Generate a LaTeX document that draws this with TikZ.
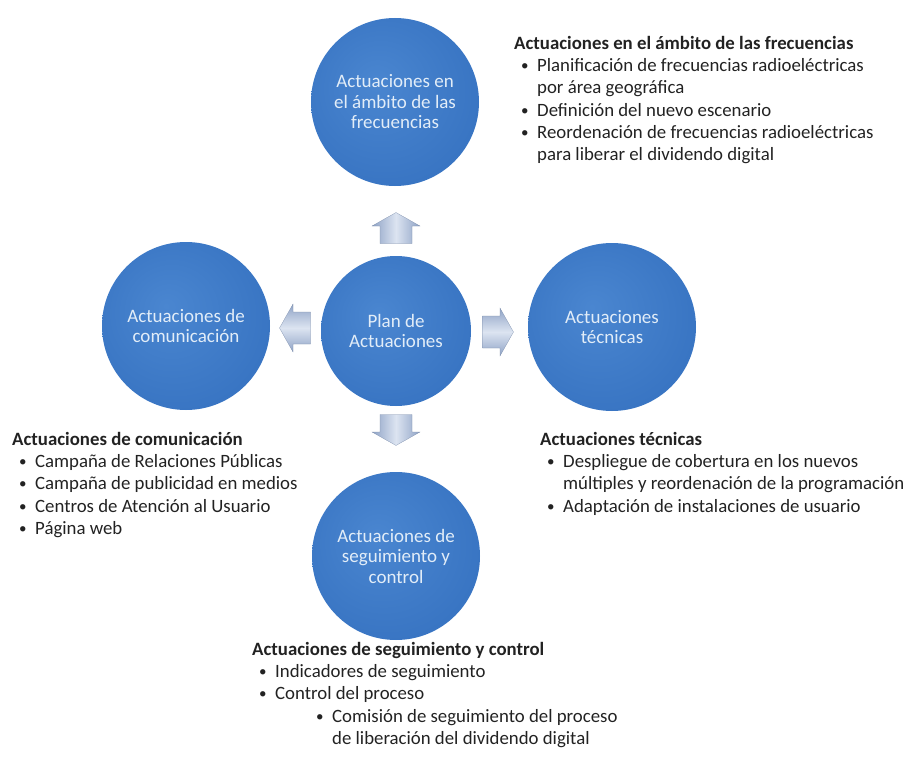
\documentclass[tikz,border=0pt]{standalone}
\usepackage{fontspec}
\setmainfont{Carlito}

\definecolor{bubblelight}{HTML}{4A86D0}
\definecolor{bubblemid}{HTML}{3975C3}
\definecolor{bubbledark}{HTML}{24589E}
\definecolor{bubbletext}{HTML}{E2EDF8}
\definecolor{arrowlight}{HTML}{DCE4F1}
\definecolor{arrowdark}{HTML}{8FA3C6}
\definecolor{arrowedge}{HTML}{7C8DAA}
\definecolor{bodytext}{HTML}{222222}

\pgfdeclareradialshading{bubbleshade}{\pgfpoint{-6bp}{6bp}}{%
  color(0bp)=(bubblelight); color(28bp)=(bubblemid);
  color(44bp)=(bubblemid); color(50bp)=(bubbledark)}

% bullet items of the side lists
\newcommand{\itm}[1]{\makebox[23pt][l]{\hspace{7pt}\raisebox{1pt}{\scalebox{0.8}{\textbullet}}}#1}
\newcommand{\cnt}[1]{\hspace*{23pt}#1}

\tikzset{
  % block arrow pointing along +x, turned with rotate
  blockarrow/.pic={
    \path[pic actions, draw=arrowedge, very thin]
      (-15.5,-16) -- (2,-16) -- (2,-24) -- (15.5,0) -- (2,24) -- (2,16)
      -- (-15.5,16) -- cycle;
  },
  across/.style={left color=arrowdark, right color=arrowdark, middle color=arrowlight},
  along/.style={top color=arrowdark, bottom color=arrowdark, middle color=arrowlight}
}

\begin{document}
\begin{tikzpicture}[x=1pt,y=-1pt,
  bubble/.style={circle, inner sep=0pt, minimum size=168pt, align=center,
    shading=bubbleshade, text=bubbletext, font=\fontsize{19}{20.5}\selectfont},
  hub/.style={bubble, minimum size=150pt},
  listtext/.style={anchor=north west, inner sep=0pt, align=left,
    text=bodytext, font=\fontsize{18.8}{22.3}\selectfont}]
  \useasboundingbox (0,0) rectangle (914,760);
  % The five bubbles.
  \node[hub] (plan) at (396,331) {Plan de\\Actuaciones};
  \node[bubble] (freq) at (395,102) {Actuaciones en\\el ámbito de las\\frecuencias};
  \node[bubble] (com) at (186,326) {Actuaciones de\\comunicación};
  \node[bubble] (tec) at (612,327) {Actuaciones\\técnicas};
  \node[bubble] (seg) at (396,556) {Actuaciones de\\seguimiento y\\control};
  % Block arrows pointing out of the hub.
  \pic[rotate=90, across] (up) at (396,228) {blockarrow};
  \pic[rotate=-90, across] (down) at (396,430) {blockarrow};
  \pic[rotate=180, along] (left) at (295,328) {blockarrow};
  \pic[along] (right) at (498,332) {blockarrow};
  % Lists beside the bubbles.
  \node[listtext] (freqlist) at (514,36) {%
    \textbf{Actuaciones en el ámbito de las frecuencias}\\
    \itm{Planificación de frecuencias radioeléctricas}\\
    \cnt{por área geográfica}\\
    \itm{Definición del nuevo escenario}\\
    \itm{Reordenación de frecuencias radioeléctricas}\\
    \cnt{para liberar el dividendo digital}};
  \node[listtext] (comlist) at (12,432) {%
    \textbf{Actuaciones de comunicación}\\
    \itm{Campaña de Relaciones Públicas}\\
    \itm{Campaña de publicidad en medios}\\
    \itm{Centros de Atención al Usuario}\\
    \itm{Página web}};
  \node[listtext] (teclist) at (540,432) {%
    \textbf{Actuaciones técnicas}\\
    \itm{Despliegue de cobertura en los nuevos}\\
    \cnt{múltiples y reordenación de la programación}\\
    \itm{Adaptación de instalaciones de usuario}};
  \node[listtext] (seglist) at (252,642) {%
    \textbf{Actuaciones de seguimiento y control}\\
    \itm{Indicadores de seguimiento}\\
    \itm{Control del proceso}\\
    \hspace*{57pt}\itm{Comisión de seguimiento del proceso}\\
    \hspace*{57pt}\cnt{de liberación del dividendo digital}};
\end{tikzpicture}
\end{document}
